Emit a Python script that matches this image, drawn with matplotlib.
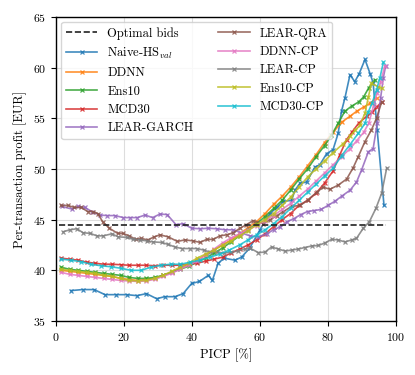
import matplotlib
matplotlib.use("Agg")
import matplotlib.pyplot as plt

plt.rcParams.update({
    "font.family": "serif",
    "font.serif": ["cmr10", "DejaVu Serif"],
    "mathtext.fontset": "cm",
    "axes.formatter.use_mathtext": True,
    "font.size": 8,
})

labels = ["Naive-HS$_{val}$", "DDNN", "Ens10", "MCD30", "LEAR-GARCH",
          "LEAR-QRA", "DDNN-CP", "LEAR-CP", "Ens10-CP", "MCD30-CP"]

naive_x = [4.4, 7.8, 11.2, 14.4, 17.6, 20.8, 23.8, 26.6, 29.6, 32.0, 35.0, 37.4, 39.9, 42.2, 44.8, 46.0, 47.7, 49.5,
           52.6, 54.6, 57.0, 60.0, 62.9, 65.0, 66.9, 69.3, 70.3, 71.8, 73.7, 76.2, 77.6, 79.6, 81.5, 83.0, 84.0, 85.0,
           86.5, 87.9, 89.2, 90.9, 92.4, 93.3, 94.5, 96.5]
naive_y = [38.0, 38.1, 38.1, 37.6, 37.6, 37.6, 37.5, 37.7, 37.2, 37.4, 37.4, 37.7, 38.7, 38.9, 39.5, 39.0, 40.7, 41.2,
           41.0, 41.3, 42.2, 44.0, 45.6, 46.2, 46.8, 46.9, 47.9, 48.6, 48.7, 50.2, 50.4, 51.5, 51.9, 53.5, 55.7, 57.0,
           59.3, 58.6, 59.4, 60.8, 59.4, 58.5, 53.8, 46.4]

ddnn_x = [1.5, 4, 6.5, 9, 11.5, 14, 16.5, 19, 21.5, 24, 26.5, 29, 31.5, 34, 36.5, 39, 41.5, 44, 46.5, 49, 51.5, 54,
          56.5, 59, 61.5, 64, 66.5, 69, 71.5, 74, 76.5, 79, 81.5, 84, 86.5, 88.5, 90.5, 92.5, 94.3]
ddnn_y = [40.0, 39.9, 39.8, 39.7, 39.6, 39.5, 39.4, 39.2, 39.1, 39.0, 39.1, 39.2, 39.5, 39.8, 40.2, 40.6, 41.0, 41.5,
          42.0, 42.5, 43.0, 43.6, 44.2, 44.8, 45.6, 46.5, 47.3, 48.2, 49.2, 50.3, 51.4, 52.6, 53.6, 54.6, 55.2, 55.7,
          56.1, 56.5, 57.0]

ens_x = [1.5, 4, 6.5, 9, 11.5, 14, 16.5, 19, 21.5, 24, 26.5, 29, 31.5, 34, 36.5, 39, 41.5, 44, 46.5, 49, 51.5, 54,
         56.5, 59, 61.5, 64, 66.5, 69, 71.5, 74, 76.5, 79, 81, 83, 85, 87, 89, 90.5, 92, 93.8]
ens_y = [40.3, 40.1, 40.0, 39.9, 39.8, 39.7, 39.6, 39.5, 39.3, 39.2, 39.2, 39.3, 39.5, 39.8, 40.1, 40.4, 40.8, 41.2,
         41.7, 42.2, 42.8, 43.4, 44.0, 44.6, 45.3, 46.1, 46.9, 47.9, 49.0, 50.0, 51.2, 52.3, 53.3, 54.5, 55.7, 56.2,
         56.6, 57.1, 58.0, 58.8]

mcd_x = [1.5, 4, 6.5, 9, 11.5, 14, 16.5, 19, 21.5, 24, 26.5, 29, 31.5, 34, 36.5, 39, 41.5, 44, 46.5, 49, 51.5, 54,
         56.5, 59, 61.5, 64, 66.5, 69, 71.5, 74, 76.5, 79, 81.5, 83.5, 85.5, 87, 89, 91.4, 93, 94.3, 95.8]
mcd_y = [41.2, 41.1, 41.0, 40.8, 40.7, 40.6, 40.6, 40.55, 40.5, 40.5, 40.5, 40.45, 40.5, 40.5, 40.5, 40.6, 40.7, 40.9,
         41.1, 41.3, 41.7, 42.1, 42.5, 43.0, 43.6, 44.3, 45.0, 45.6, 46.4, 46.9, 47.6, 48.6, 49.8, 51.4, 52.9, 53.6,
         54.5, 55.2, 55.6, 56.1, 56.6]

garch_x = [1.7, 4.6, 6.6, 8.5, 10.5, 12.9, 15.1, 17.3, 19.8, 21.8, 23.9, 26.2, 28.4, 30.6, 32.7, 35.3, 37.4, 39.9,
           42.4, 44.8, 47.3, 49.7, 52.1, 54.5, 57, 59.5, 62, 64, 66, 68, 70, 72, 74, 76, 78, 80, 82, 84, 86.5, 88.4,
           89.9, 91.9, 93.3, 94.5, 95.5, 96.3, 97.0]
garch_y = [46.3, 46.05, 46.3, 46.2, 45.8, 45.45, 45.4, 45.4, 45.2, 45.2, 45.2, 45.45, 45.2, 45.55, 45.5, 44.5, 44.6,
           44.15, 44.1, 44.15, 44.1, 44.0, 44.0, 43.7, 43.4, 43.3, 43.6, 44.0, 44.3, 44.8, 45.1, 45.5, 45.8, 45.9,
           46.0, 46.4, 46.8, 47.3, 47.9, 48.7, 49.9, 51.7, 52.0, 54.5, 57.0, 59.0, 60.2]

qra_x = [1.5, 3.4, 5.4, 7.4, 9.3, 10.8, 12.3, 13.7, 15.7, 18.1, 19.6, 21.5, 23.5, 25, 27, 28.9, 30.6, 33, 35.7, 37.9,
         40.4, 42.4, 44.3, 46.3, 48.2, 50.2, 52.1, 54.1, 56, 58, 61, 63, 65, 66.9, 69.3, 71.8, 74, 76.7, 78.6, 80.6,
         83, 85.5, 87.4, 88.9, 90.9, 92.8, 94.3, 95.8]
qra_y = [46.4, 46.4, 46.2, 46.2, 45.8, 45.8, 45.6, 44.8, 44.15, 43.65, 43.65, 43.4, 43.05, 43.15, 43.0, 43.3, 43.5,
         43.3, 42.85, 43.0, 42.9, 42.75, 43.05, 43.05, 43.4, 43.5, 43.7, 44.15, 44.5, 44.9, 44.6, 45.0, 45.4, 45.8,
         46.3, 46.4, 46.9, 47.7, 48.2, 48.0, 48.4, 49.0, 50.1, 51.2, 52.7, 53.85, 55.0, 56.6]

ddnncp_x = [1.5, 4, 6.5, 9, 11.5, 14, 16.5, 19, 21.5, 24, 26.5, 29, 31.5, 34, 36.5, 39, 41.5, 44, 46.5, 49, 51.5, 54,
            56.5, 59, 61.5, 64, 66.5, 69, 71.5, 74, 76.5, 79, 81.5, 84, 86.5, 88.5, 90.5, 92, 93.5, 94.5, 95.5, 96.8]
ddnncp_y = [39.8, 39.6, 39.5, 39.4, 39.3, 39.2, 39.1, 39.0, 38.95, 38.9, 38.95, 39.1, 39.4, 39.7, 40.1, 40.5, 40.9,
            41.5, 42.1, 42.7, 43.2, 43.6, 44.0, 44.4, 44.9, 45.4, 46.0, 46.6, 47.3, 48.0, 48.8, 49.6, 50.4, 51.2,
            52.0, 52.8, 53.6, 54.5, 56.3, 57.5, 58.6, 60.2]

learcp_x = [2.1, 4.1, 6.1, 8, 10, 12, 13.9, 16.4, 18.3, 20.8, 22.7, 24.7, 26.7, 28.6, 31.1, 33, 35, 37, 39.4, 41.4,
            43.4, 45.3, 47.3, 49.5, 51.5, 53.5, 55.5, 57, 59.5, 61.5, 63.4, 65.4, 67.4, 69.3, 71.3, 73.2, 75.2, 77.2,
            79.1, 81.1, 83, 85, 87, 88.4, 90.4, 92.2, 94.1, 95.8, 97.3]
learcp_y = [43.8, 44.0, 44.1, 43.7, 43.65, 43.4, 43.4, 43.6, 43.3, 43.25, 43.05, 43.0, 42.9, 42.8, 42.75, 42.55, 42.3,
            42.15, 42.15, 42.15, 42.0, 41.8, 41.8, 41.7, 41.8, 41.9, 42.1, 42.2, 41.75, 41.8, 42.3, 42.1, 41.9, 42.0,
            42.1, 42.25, 42.4, 42.45, 42.7, 43.05, 43.0, 42.8, 43.0, 43.15, 44.15, 44.8, 46.1, 47.6, 50.1]

enscp_x = [1.5, 4, 6.5, 9, 11.5, 14, 16.5, 19, 21.5, 24, 26.5, 29, 31.5, 34, 36.5, 39, 41.5, 44, 46.5, 49, 51.5, 54,
           56.5, 59, 61.5, 64, 66.5, 69, 71.5, 74, 76.5, 79, 81.5, 84.5, 86.5, 88, 89.4, 90.9, 91.9, 92.8, 94.8, 95.8]
enscp_y = [40.1, 40.0, 39.9, 39.8, 39.7, 39.5, 39.4, 39.2, 39.0, 38.95, 39.0, 39.2, 39.5, 39.9, 40.3, 40.7, 41.2,
           41.6, 42.0, 42.5, 42.9, 43.4, 43.9, 44.5, 45.0, 45.6, 46.4, 47.2, 48.2, 49.2, 50.0, 50.8, 51.6, 52.5,
           53.2, 53.8, 54.3, 55.5, 57.1, 58.45, 58.1, 57.95]

mcdcp_x = [1.5, 4.4, 7.4, 10.3, 13.2, 16.2, 19.1, 22.1, 25, 27.9, 30.8, 33.7, 36.6, 39.5, 42.4, 45.3, 48.2, 51, 54,
           56.5, 59, 61.5, 64, 66.5, 69, 71.5, 74, 76.5, 79, 81.6, 84, 86.5, 88.9, 90.9, 91.9, 93, 94.3, 95.3, 96.3]
mcdcp_y = [41.1, 41.0, 40.85, 40.6, 40.45, 40.35, 40.2, 40.0, 40.0, 40.3, 40.5, 40.6, 40.6, 40.8, 41.0, 41.3, 41.6,
           42.0, 42.5, 43.0, 43.5, 44.0, 44.6, 45.3, 46.1, 46.9, 47.7, 48.5, 49.3, 50.1, 51.3, 52.4, 53.5, 54.5,
           55.65, 56.5, 57.8, 59.0, 60.5]

optimal_x = [1, 97]
optimal_y = [44.5, 44.5]

series = [(naive_x, naive_y), (ddnn_x, ddnn_y), (ens_x, ens_y), (mcd_x, mcd_y), (garch_x, garch_y),
          (qra_x, qra_y), (ddnncp_x, ddnncp_y), (learcp_x, learcp_y), (enscp_x, enscp_y), (mcdcp_x, mcdcp_y)]
colors = plt.get_cmap("tab10").colors

fig = plt.figure(figsize=(4.15, 3.75), dpi=100)
ax = fig.add_axes([0.135, 0.144, 0.819, 0.811])

ax.plot(optimal_x, optimal_y, "--", color="#222222", lw=1.2, label="Optimal bids", zorder=3)
for (xs, ys), lab, c in zip(series, labels, colors):
    ax.plot(xs, ys, "-x", color=c, lw=1.2, ms=3.2, mew=0.9, alpha=0.85, label=lab)

ax.set_xlim(0, 100)
ax.set_ylim(35, 65)
ax.set_xticks([0, 20, 40, 60, 80, 100])
ax.set_yticks([35, 40, 45, 50, 55, 60, 65])
ax.tick_params(labelsize=8.5)
ax.grid(True, color="#dddddd", lw=0.8)
ax.set_axisbelow(True)
ax.set_xlabel("PICP [%]", fontsize=9)
ax.set_ylabel("Per-transaction profit [EUR]", fontsize=9)
for s in ax.spines.values():
    s.set_linewidth(1.0)

leg = ax.legend(loc="upper left", ncol=2, handlelength=2.5, numpoints=1, fancybox=True, fontsize=9,
                framealpha=0.8, edgecolor="#cccccc", borderaxespad=0.4, columnspacing=2.0)

fig.savefig("out.png", dpi=100)
